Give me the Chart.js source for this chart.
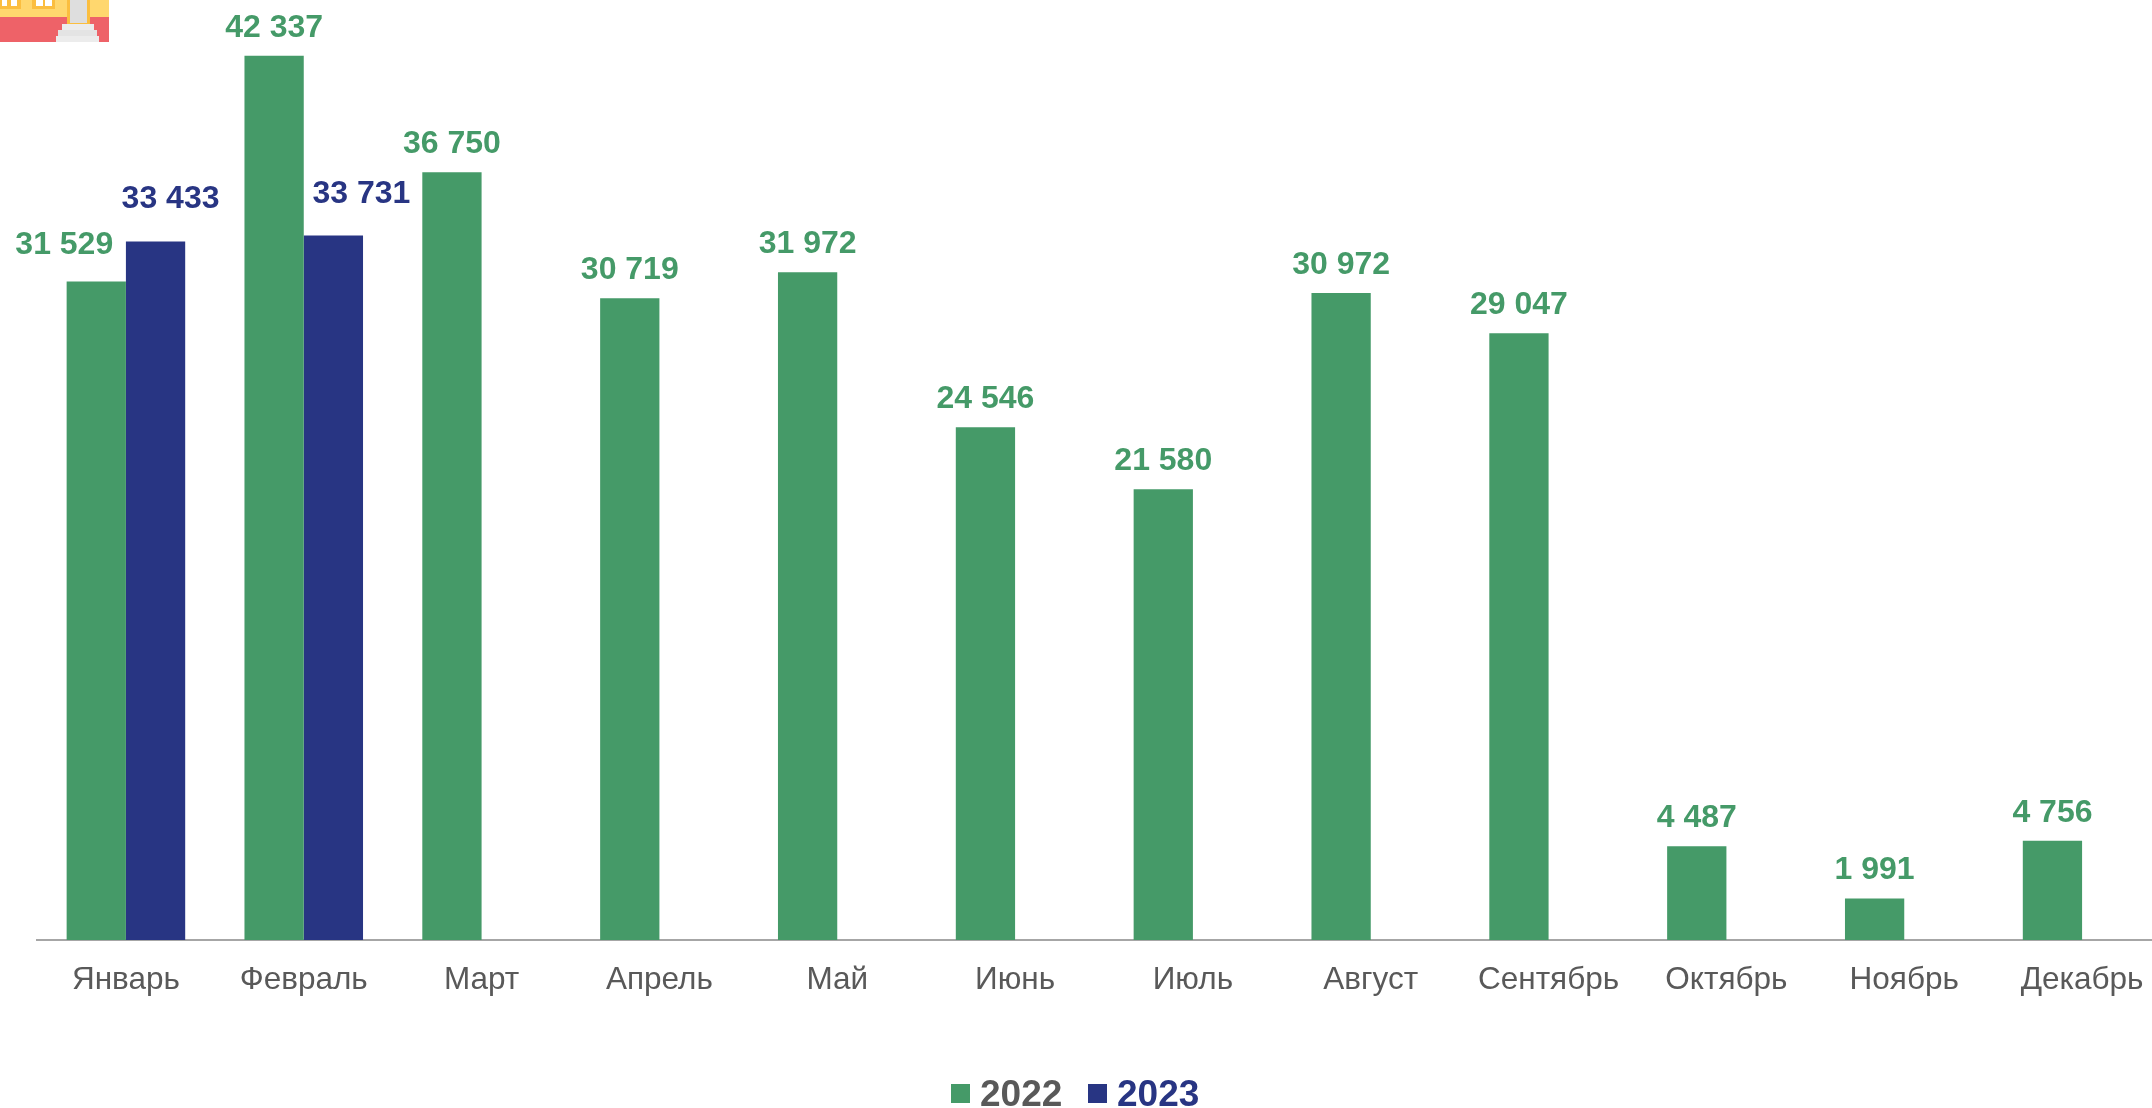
<!DOCTYPE html>
<html lang="ru">
<head>
<meta charset="utf-8">
<title>2022 / 2023</title>
<script src="https://cdn.jsdelivr.net/npm/chart.js@4"></script>
<style>
    html, body { margin: 0; padding: 0; width: 2152px; height: 1108px; overflow: hidden; background: #fff; }
    #chart-box { position: absolute; left: 0; top: 0; width: 2172px; height: 1108px; }
    #icon { position: absolute; left: 0; top: 0; filter: blur(0.5px); }
</style>
</head>
<body>
<div id="chart-box"><canvas id="bars-chart"></canvas></div>

<!-- building icon cut off by the top edge -->
<svg id="icon" width="110" height="42" viewBox="0 0 110 42">
    <rect x="0" y="0" width="109" height="18" fill="#FFD76E"/>
    <rect x="0" y="17" width="109" height="25" fill="#EE6268"/>
    <rect x="0" y="0" width="21" height="9" fill="#FBBE3F"/>
    <rect x="2" y="0" width="5" height="6" fill="#fff"/>
    <rect x="11" y="0" width="6" height="6" fill="#fff"/>
    <rect x="32" y="0" width="23" height="9" fill="#FBBE3F"/>
    <rect x="36" y="0" width="7" height="6" fill="#fff"/>
    <rect x="45" y="0" width="7" height="6" fill="#fff"/>
    <rect x="67" y="0" width="23" height="24" fill="#FBBE3F"/>
    <rect x="70" y="0" width="17" height="23" fill="#DEDEDE"/>
    <rect x="62" y="24" width="32" height="6" fill="#ECECEC"/>
    <rect x="58" y="30" width="39" height="6" fill="#E4E4E4"/>
    <rect x="56" y="36" width="43" height="6" fill="#ECECEC"/>
</svg>

<script>
const months = ['Январь', 'Февраль', 'Март', 'Апрель', 'Май', 'Июнь', 'Июль', 'Август', 'Сентябрь', 'Октябрь', 'Ноябрь', 'Декабрь'];
const values2022 = [31529, 42337, 36750, 30719, 31972, 24546, 21580, 30972, 29047, 4487, 1991, 4756];
const values2023 = [33433, 33731, null, null, null, null, null, null, null, null, null, null];

const green = '#459A68';
const navy = '#283583';
const gray = '#595959';

// labels that sit away from their bar in the original, [dx, dy] from the default spot
const labelShift = {
    '0-0': [-32, -8],
    '1-0': [15, -15],
    '1-1': [28, -13]
};

function formatValue(v) {
    return String(v).replace(/\B(?=(\d{3})+$)/g, ' ');
}

const valueLabels = {
    id: 'valueLabels',
    afterDatasetsDraw(chart) {
        const ctx = chart.ctx;
        ctx.save();
        ctx.font = 'bold 32px "Liberation Sans", Arial, sans-serif';
        ctx.textAlign = 'center';
        ctx.textBaseline = 'alphabetic';
        chart.data.datasets.forEach((ds, d) => {
            ctx.fillStyle = ds.backgroundColor;
            chart.getDatasetMeta(d).data.forEach((bar, i) => {
                if (ds.data[i] === null) return;
                const shift = labelShift[d + '-' + i] || [0, 0];
                ctx.fillText(formatValue(ds.data[i]), bar.x + shift[0], bar.y - 19 + shift[1]);
            });
        });
        ctx.restore();
    }
};

// box to text gap is tighter than the library legend allows, so it is drawn here
const yearLegend = {
    id: 'yearLegend',
    afterDraw(chart) {
        const ctx = chart.ctx;
        const boxX = [951, 1088];
        const textColors = [gray, navy];
        ctx.save();
        ctx.font = 'bold 37px "Liberation Sans", Arial, sans-serif';
        ctx.textBaseline = 'alphabetic';
        chart.data.datasets.forEach((ds, d) => {
            ctx.fillStyle = ds.backgroundColor;
            ctx.fillRect(boxX[d], 1084, 19, 19);
            ctx.fillStyle = textColors[d];
            ctx.fillText(ds.label, boxX[d] + 29, 1106);
        });
        ctx.restore();
    }
};

new Chart(document.getElementById('bars-chart'), {
    type: 'bar',
    data: {
        labels: months,
        datasets: [
            { label: '2022', data: values2022, backgroundColor: green },
            { label: '2023', data: values2023, backgroundColor: navy }
        ]
    },
    options: {
        responsive: true,
        maintainAspectRatio: false,
        animation: false,
        layout: { padding: { left: 37, right: 1, top: 0, bottom: 0 } },
        categoryPercentage: 2 / 3,
        barPercentage: 1,
        plugins: {
            legend: { display: false },
            tooltip: { enabled: false }
        },
        scales: {
            x: {
                grid: { display: false, drawTicks: false },
                border: { color: '#A6A6A6', width: 2 },
                ticks: {
                    color: gray,
                    font: { family: '"Liberation Sans", Arial, sans-serif', size: 31.5 },
                    padding: 21,
                    autoSkip: false,
                    maxRotation: 0
                },
                afterFit(scale) { scale.height = 168; }
            },
            y: {
                display: false,
                min: 0,
                max: 45000
            }
        }
    },
    plugins: [valueLabels, yearLegend]
});
</script>
</body>
</html>
